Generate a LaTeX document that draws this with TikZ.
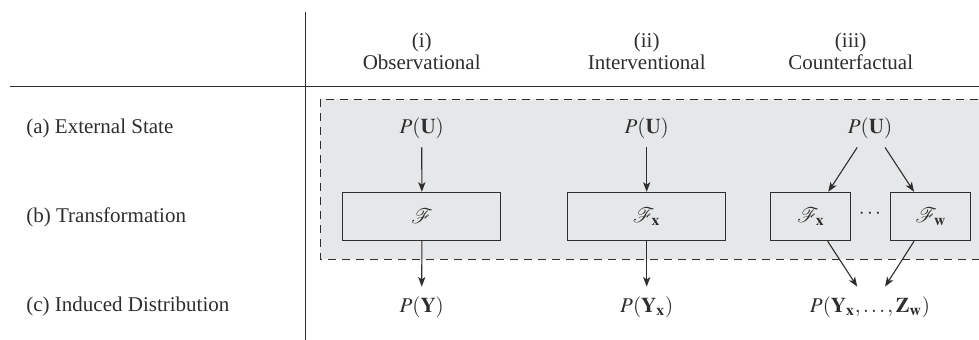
\documentclass[tikz,border=0pt]{standalone}
\usepackage{mathptmx}
\usepackage[no-math]{fontspec}
\setmainfont{Liberation Serif}
\usetikzlibrary{arrows.meta}
\definecolor{ink}{HTML}{2E2E2E}
\definecolor{shade}{HTML}{E6E7E8}
\tikzset{
  lbl/.style={font=\fontsize{10.5}{11}\selectfont, text=ink, inner sep=0pt},
  pnode/.style={lbl, minimum height=19pt},
  pbot/.style={lbl, minimum height=20pt},
  fbox/.style={draw=ink, line width=0.5pt, fill=shade, minimum height=24.2pt, inner sep=0pt, lbl},
  arr/.style={draw=ink, line width=0.55pt, -{Stealth[length=4.8pt, width=3.6pt, inset=1.2pt]}},
  rule/.style={draw=ink, line width=0.5pt}
}
\begin{document}
\begin{tikzpicture}[x=0.5pt, y=-0.5pt]
\clip (0,0) rectangle (979,339);
\fill[white] (0,0) rectangle (979,339);
% shaded dashed region
\draw[ink, line width=0.5pt, dash pattern=on 4pt off 3pt, fill=shade] (320,99) rectangle (1000,259);
% rules
\draw[rule] (305.7,12) -- (305.7,345);
\draw[rule] (10,86) -- (985,86);
% headers
\node[lbl, align=center] (h1) at (421.7,51) {(i)\\Observational};
\node[lbl, align=center] (h2) at (646.7,51) {(ii)\\Interventional};
\node[lbl, align=center] (h3) at (850.7,51) {(iii)\\Counterfactual};
% row labels
\node[lbl, anchor=west] (ra) at (26,128) {(a) External State};
\node[lbl, anchor=west] (rb) at (26,217) {(b) Transformation};
\node[lbl, anchor=west] (rc) at (26,306) {(c) Induced Distribution};
% column i
\node[pnode] (pu1) at (421.7,128) {$P(\mathbf{U})$};
\node[fbox, minimum width=79pt] (f1) at (421.9,216.5) {$\mathcal{F}$};
\node[pbot] (py1) at (421.7,307) {$P(\mathbf{Y})$};
\draw[arr] (pu1) -- (f1);
\draw[arr] (f1) -- (py1);
% column ii
\node[pnode] (pu2) at (646.7,128) {$P(\mathbf{U})$};
\node[fbox, minimum width=79pt] (f2) at (646.7,216.5) {$\mathcal{F}_{\mathbf{x}}$};
\node[pbot] (py2) at (646.7,307) {$P(\mathbf{Y}_{\mathbf{x}})$};
\draw[arr] (pu2) -- (f2);
\draw[arr] (f2) -- (py2);
% column iii
\node[pnode] (pu3) at (870,128) {$P(\mathbf{U})$};
\node[fbox, minimum width=40pt] (fx3) at (810.85,216.5) {$\mathcal{F}_{\mathbf{x}}$};
\node[fbox, minimum width=40pt] (fw3) at (930.85,216.5) {$\mathcal{F}_{\mathbf{w}}$};
\node[lbl] (dots) at (870,214) {$\cdots$};
\node[pbot] (py3) at (870,307) {$P(\mathbf{Y}_{\mathbf{x}},\ldots,\mathbf{Z}_{\mathbf{w}})$};
\draw[arr] ([xshift=-6.4pt]pu3.south) -- ([xshift=8.7pt]fx3.north);
\draw[arr] ([xshift=7.5pt]pu3.south) -- ([xshift=-8.4pt]fw3.north);
\draw[arr] ([xshift=8.4pt]fx3.south) -- ([xshift=-6.4pt]py3.north);
\draw[arr] ([xshift=-8.4pt]fw3.south) -- ([xshift=7.5pt]py3.north);
\end{tikzpicture}
\end{document}
